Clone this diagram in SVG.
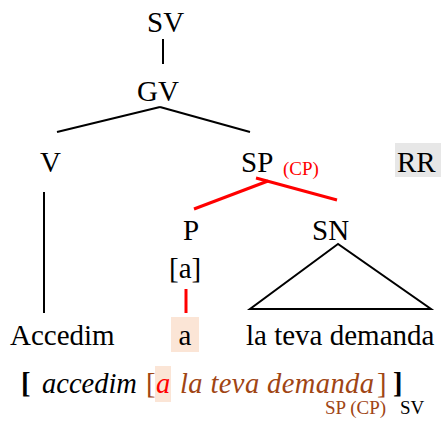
<svg xmlns="http://www.w3.org/2000/svg" width="441" height="424" viewBox="0 0 441 424" font-family="'Liberation Serif', 'DejaVu Serif', serif">
  <style>
    .lbl { font-size: 29px; }
    .small { font-size: 19px; }
    .it { font-style: italic; font-size: 28.5px; }
    .br { font-size: 28.5px; }
    .edge { stroke: #000; stroke-width: 2; fill: none; }
    .hl { stroke: #ff0000; stroke-width: 3; fill: none; }
    .brown { fill: #a04514; }
    .red { fill: #ff0000; }
  </style>

  <!-- tree edges -->
  <g id="connectors">
    <line class="edge" x1="163" y1="39" x2="163" y2="64"/>
    <line class="edge" x1="160" y1="107" x2="57" y2="132"/>
    <line class="edge" x1="160" y1="107" x2="250" y2="132"/>
    <line class="edge" x1="44" y1="192" x2="44" y2="313"/>
    <line class="hl" x1="194" y1="209" x2="268" y2="181"/>
    <line class="hl" x1="256" y1="178" x2="337" y2="200"/>
    <line class="hl" x1="186" y1="289" x2="186" y2="313"/>
    <polygon class="edge" points="338,244 250,309 431,309"/>
  </g>

  <g id="node-sv"><text class="lbl" x="147" y="32">SV</text></g>
  <g id="node-gv"><text class="lbl" x="137" y="101">GV</text></g>
  <g id="node-v"><text class="lbl" x="40" y="172">V</text></g>
  <g id="node-sp">
    <text class="lbl" x="241" y="172">SP</text>
    <text class="small red" x="283" y="175">(CP)</text>
  </g>
  <g id="node-rr">
    <rect x="395" y="143" width="46" height="34" fill="#e7e7e7"/>
    <text class="lbl" x="397" y="172">RR</text>
  </g>
  <g id="node-p">
    <text class="lbl" x="183" y="240">P</text>
    <text class="lbl" x="169" y="278">[a]</text>
  </g>
  <g id="node-sn"><text class="lbl" x="312" y="240">SN</text></g>
  <g id="leaf-accedim"><text class="lbl" x="10" y="345">Accedim</text></g>
  <g id="leaf-a">
    <rect x="171" y="317" width="28" height="35" fill="#fbe5d6"/>
    <text class="lbl" x="185" y="345" text-anchor="middle">a</text>
  </g>
  <g id="leaf-demanda"><text class="lbl" x="246" y="345">la teva demanda</text></g>

  <!-- bracketed phrase -->
  <g id="bracketing">
    <text class="br" x="21" y="393" font-weight="bold">[</text>
    <text class="it" x="42" y="393">accedim</text>
    <text class="br brown" x="146" y="393">[</text>
    <rect x="155" y="366" width="16" height="36" fill="#fbe5d6"/>
    <text class="it red" x="156" y="393">a</text>
    <text class="it brown" x="180" y="393" font-size="29.5" textLength="194" lengthAdjust="spacing">la teva demanda</text>
    <text class="br brown" x="377" y="393">]</text>
    <text class="br" x="393" y="393" font-weight="bold">]</text>
    <text class="small brown" x="325" y="414">SP (CP)</text>
    <text class="small" x="400" y="414">SV</text>
  </g>
</svg>
